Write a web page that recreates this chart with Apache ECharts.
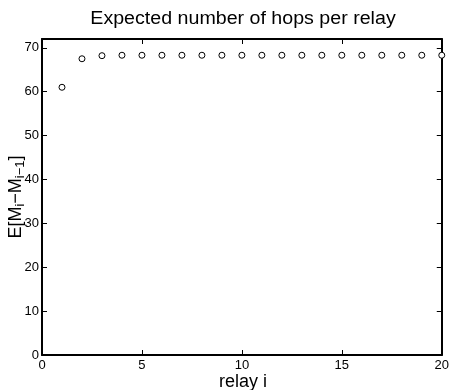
<!DOCTYPE html>
<html>
<head>
<meta charset="utf-8">
<script src="https://cdn.jsdelivr.net/npm/echarts@6/dist/echarts.min.js"></script>
<style>
  html, body { margin: 0; padding: 0; background: #fff; }
  #chart { width: 452px; height: 390px; }
</style>
</head>
<body>
<div id="chart"></div>
<script>
// Relay index and expected hop count per relay
const relays = [1, 2, 3, 4, 5, 6, 7, 8, 9, 10, 11, 12, 13, 14, 15, 16, 17, 18, 19, 20];
const hops = [61.0, 67.5, 68.2, 68.3, 68.3, 68.3, 68.3, 68.3, 68.3, 68.3, 68.3, 68.3, 68.3, 68.3, 68.3, 68.3, 68.3, 68.3, 68.3, 68.3];
const xTicks = [0, 5, 10, 15, 20];
const yTicks = [0, 10, 20, 30, 40, 50, 60, 70];

const FONT = 'Liberation Sans, Arial, sans-serif';
const chart = echarts.init(document.getElementById('chart'));

// Boxed frame: every side drawn as an axis with inward ticks
const frameAxis = {
  axisLine: { show: true, onZero: false, lineStyle: { color: '#000', width: 2 } },
  axisTick: { show: true, inside: true, length: 5, lineStyle: { color: '#000', width: 1 } },
  splitLine: { show: false }
};

chart.setOption({
  animation: false,
  backgroundColor: '#fff',
  grid: { left: 42, right: 8, top: 39, bottom: 35 },
  xAxis: [
    Object.assign({
      type: 'value', min: 0, max: 20, interval: 5, position: 'bottom',
      axisLabel: {
        fontFamily: FONT, fontSize: 13, color: '#000', margin: 4,
        formatter: v => xTicks.includes(v) ? String(v) : ''
      }
    }, frameAxis),
    Object.assign({
      type: 'value', min: 0, max: 20, interval: 5, position: 'top',
      axisLabel: { show: false }
    }, frameAxis)
  ],
  yAxis: [
    Object.assign({
      type: 'value', min: 0, max: 72, interval: 10, position: 'left',
      axisLabel: {
        fontFamily: FONT, fontSize: 13, color: '#000', margin: 3,
        formatter: v => yTicks.includes(v) ? String(v) : ''
      }
    }, frameAxis),
    Object.assign({
      type: 'value', min: 0, max: 72, interval: 10, position: 'right',
      axisLabel: { show: false }
    }, frameAxis)
  ],
  graphic: [
    {
      type: 'text',
      x: 243, y: 19, scaleX: 1.09,
      style: {
        text: 'Expected number of hops per relay',
        fontFamily: FONT, fontSize: 18, fill: '#000',
        align: 'center', verticalAlign: 'middle'
      }
    },
    {
      type: 'text',
      x: 243, y: 382,
      style: {
        text: 'relay i',
        fontFamily: FONT, fontSize: 18, fill: '#000',
        align: 'center', verticalAlign: 'middle'
      }
    },
    {
      type: 'text',
      x: 17, y: 197, rotation: Math.PI / 2,
      style: {
        text: '{m|E[M}{s|i}{m|−M}{s|i−1}{m|]}',
        align: 'center', verticalAlign: 'middle',
        rich: {
          m: { fontFamily: FONT, fontSize: 18, fill: '#000', lineHeight: 20, verticalAlign: 'top' },
          s: { fontFamily: FONT, fontSize: 13, fill: '#000', lineHeight: 14, verticalAlign: 'bottom', padding: [10, 0, 0, 0] }
        }
      }
    }
  ],
  series: [{
    type: 'scatter',
    xAxisIndex: 0, yAxisIndex: 0,
    data: relays.map((r, i) => [r, hops[i]]),
    symbol: 'circle',
    symbolSize: 6,
    itemStyle: { color: '#fff', borderColor: '#000', borderWidth: 1, opacity: 1 },
    clip: false,
    z: 5
  }]
});
</script>
</body>
</html>
